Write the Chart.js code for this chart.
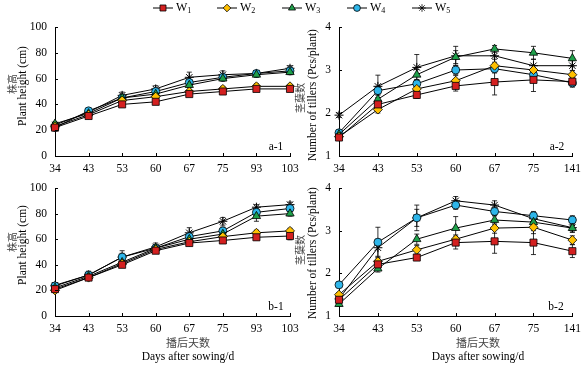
<!DOCTYPE html>
<html>
<head>
<meta charset="utf-8">
<script src="https://cdn.jsdelivr.net/npm/chart.js@4.4.1/dist/chart.umd.min.js"></script>
<style>
body{margin:0;background:#fff;}
#wrap{position:relative;width:587px;height:366px;overflow:hidden;font-family:'Liberation Serif',serif;}
canvas{position:absolute;left:0;top:0;}
.t{position:absolute;white-space:nowrap;transform:translate(-50%,-50%);font-size:11.5px;color:#000;line-height:1;}
.r{transform:translate(-50%,-50%) rotate(-90deg);}
.cn{font-family:'Noto Sans CJK SC',sans-serif;font-size:10px;color:#444;}
</style>
</head>
<body>
<div id="wrap">
  <canvas id="a1" width="587" height="366"></canvas>
  <canvas id="a2" width="587" height="366"></canvas>
  <canvas id="b1" width="587" height="366"></canvas>
  <canvas id="b2" width="587" height="366"></canvas>

  <div class="t r cn" style="left:12px;top:84px;">株高</div>
  <div class="t r" style="left:23px;top:86px;">Plant height (cm)</div>
  <div class="t r cn" style="left:12px;top:242px;">株高</div>
  <div class="t r" style="left:23px;top:245px;">Plant height (cm)</div>
  <div class="t r cn" style="left:300px;top:98px;">茎蘖数</div>
  <div class="t r" style="left:313px;top:95px;">Number of tillers (Pcs/plant)</div>
  <div class="t r cn" style="left:300px;top:250px;">茎蘖数</div>
  <div class="t r" style="left:313px;top:253px;">Number of tillers (Pcs/plant)</div>

  <div class="t cn" style="left:188px;top:342px;font-size:11px;">播后天数</div>
  <div class="t" style="left:188px;top:357px;">Days after sowing/d</div>
  <div class="t cn" style="left:478px;top:342px;font-size:11px;">播后天数</div>
  <div class="t" style="left:478px;top:357px;">Days after sowing/d</div>

  <div class="t" style="left:276px;top:147px;">a-1</div>
  <div class="t" style="left:557px;top:147px;">a-2</div>
  <div class="t" style="left:276px;top:307px;">b-1</div>
  <div class="t" style="left:556px;top:307px;">b-2</div>
</div>
<script>
const seriesNames = ['W1', 'W2', 'W3', 'W4', 'W5'];
const daysHeight = ['34', '43', '53', '60', '67', '75', '93', '103'];
const daysTillers = ['34', '43', '53', '60', '67', '75', '141'];

// a-1 plant height
const heightA = [
    [22, 31, 40, 42, 48, 50, 52, 52],
    [23, 32, 43, 46, 50, 52, 54, 54],
    [25, 33, 45, 48, 55, 60, 63, 65],
    [22, 35, 45, 50, 57, 61, 64, 66],
    [24, 34, 47, 52, 61, 63, 64, 68]
];
const heightAErr = [
    [1, 1, 1.5, 1.5, 1.5, 1.5, 1.5, 1.5],
    [1, 1, 1.5, 1.5, 1.5, 2, 2, 1.5],
    [1.5, 1.5, 2, 2, 2, 2, 2, 2],
    [1, 1.5, 2, 2, 2, 2, 2, 2],
    [1, 1.5, 2.5, 2.5, 4, 3, 2, 2]
];

// a-2 tillers
const tillersA = [
    [1.43, 2.2, 2.42, 2.63, 2.72, 2.77, 2.73],
    [1.45, 2.08, 2.56, 2.75, 3.1, 3.0, 2.89],
    [1.5, 2.32, 2.89, 3.3, 3.49, 3.4, 3.27],
    [1.54, 2.52, 2.68, 3.0, 3.03, 2.89, 2.7],
    [1.95, 2.62, 3.06, 3.33, 3.33, 3.1, 3.1]
];
const tillersAErr = [
    [0.05, 0.1, 0.08, 0.12, 0.3, 0.27, 0.1],
    [0.05, 0.08, 0.1, 0.12, 0.15, 0.1, 0.1],
    [0.05, 0.1, 0.12, 0.15, 0.08, 0.15, 0.18],
    [0.05, 0.1, 0.1, 0.1, 0.1, 0.12, 0.1],
    [0.05, 0.26, 0.3, 0.22, 0.15, 0.15, 0.12]
];

// b-1 plant height
const heightB = [
    [21, 30, 40, 51, 57, 59, 61.5, 62.5],
    [20, 30, 41, 52, 58, 62, 65, 66.5],
    [22, 31, 42, 53, 60, 64, 78, 80],
    [23.5, 32, 46, 53, 62, 66.5, 81, 84],
    [24, 32, 46, 54, 65, 74, 85, 87]
];
const heightBErr = [
    [1.5, 2, 2, 2, 1.5, 2, 2, 3],
    [1.5, 2, 2, 2, 1.5, 2, 2, 2],
    [1.5, 2, 3, 2, 2, 2, 4, 2],
    [1.5, 2, 3, 2, 2, 3, 3, 2],
    [2, 3, 5, 3, 4, 3, 2, 2]
];

// b-2 tillers
const tillersB = [
    [1.38, 2.21, 2.37, 2.72, 2.75, 2.72, 2.52],
    [1.5, 2.28, 2.55, 2.8, 3.06, 3.08, 2.78],
    [1.28, 2.11, 2.8, 3.06, 3.25, 3.2, 3.06],
    [1.73, 2.73, 3.3, 3.6, 3.45, 3.35, 3.25],
    [1.4, 2.6, 3.3, 3.7, 3.6, 3.28, 3.07]
];
const tillersBErr = [
    [0.05, 0.1, 0.06, 0.15, 0.28, 0.28, 0.15],
    [0.05, 0.08, 0.1, 0.1, 0.12, 0.15, 0.1],
    [0.05, 0.08, 0.12, 0.27, 0.1, 0.1, 0.1],
    [0.05, 0.35, 0.2, 0.1, 0.1, 0.1, 0.1],
    [0.05, 0.2, 0.3, 0.1, 0.1, 0.1, 0.1]
];

const marks = [
    {color: '#D42020', style: 'rect', radius: 5},
    {color: '#FFC000', style: 'rectRot', radius: 4.5},
    {color: '#1EA04A', style: 'triangle', radius: 4.8},
    {color: '#2EB6EA', style: 'circle', radius: 4},
    {color: '#000000', style: 'star', radius: 4.5}
];

const FONT = "'Liberation Serif', serif";

// vertical error bars drawn through the y scale
const errorBars = {
    id: 'errorBars',
    beforeDatasetsDraw(chart) {
        const ctx = chart.ctx;
        const yScale = chart.scales.y;
        ctx.save();
        ctx.strokeStyle = '#000';
        ctx.lineWidth = 0.8;
        chart.data.datasets.forEach((ds, i) => {
            const meta = chart.getDatasetMeta(i);
            meta.data.forEach((pt, j) => {
                const e = ds.errors[j];
                const v = ds.data[j];
                const y1 = yScale.getPixelForValue(v - e);
                const y2 = yScale.getPixelForValue(v + e);
                ctx.beginPath();
                ctx.moveTo(pt.x, y1); ctx.lineTo(pt.x, y2);
                ctx.moveTo(pt.x - 2.5, y1); ctx.lineTo(pt.x + 2.5, y1);
                ctx.moveTo(pt.x - 2.5, y2); ctx.lineTo(pt.x + 2.5, y2);
                ctx.stroke();
            });
        });
        ctx.restore();
    }
};

// short tick marks pointing into the plot, like the original
const innerTicks = {
    id: 'innerTicks',
    afterDraw(chart) {
        const ctx = chart.ctx;
        const a = chart.chartArea;
        const xs = chart.scales.x;
        const ys = chart.scales.y;
        ctx.save();
        ctx.strokeStyle = '#000';
        ctx.lineWidth = 1;
        ctx.beginPath();
        xs.ticks.forEach((t, i) => {
            if (i === 0) return;
            const px = Math.round(xs.getPixelForTick(i)) + 0.5;
            ctx.moveTo(px, a.bottom); ctx.lineTo(px, a.bottom - 3);
        });
        ys.ticks.forEach((t, i) => {
            if (i === 0) return;
            const py = Math.round(ys.getPixelForTick(i)) + 0.5;
            ctx.moveTo(a.left, py); ctx.lineTo(a.left + 3, py);
        });
        ctx.stroke();
        ctx.restore();
    }
};

// shared legend along the top of the figure
const topLegend = {
    id: 'topLegend',
    afterDraw(chart) {
        const ctx = chart.ctx;
        const xs = [163, 227, 292, 357, 422];
        const y = 8;
        ctx.save();
        seriesNames.forEach((name, i) => {
            const m = marks[i];
            ctx.strokeStyle = '#000';
            ctx.lineWidth = 1;
            ctx.beginPath();
            ctx.moveTo(xs[i] - 10, y); ctx.lineTo(xs[i] + 10, y);
            ctx.stroke();
            ctx.fillStyle = m.color;
            ctx.lineWidth = 0.8;
            Chart.helpers.drawPoint(ctx, {pointStyle: m.style, radius: m.radius * 0.85, borderWidth: 0.8, rotation: 0}, xs[i], y);
            ctx.fillStyle = '#000';
            ctx.textBaseline = 'middle';
            ctx.textAlign = 'left';
            ctx.font = '12px ' + FONT;
            ctx.fillText(name[0], xs[i] + 13, y);
            const w = ctx.measureText(name[0]).width;
            ctx.font = '8px ' + FONT;
            ctx.fillText(name.slice(1), xs[i] + 13 + w, y + 3);
        });
        ctx.restore();
    }
};

function makePanel(id, labels, rows, errs, yMin, yMax, step, pad, extra) {
    const datasets = rows.map((row, i) => ({
        label: seriesNames[i],
        data: row,
        errors: errs[i],
        borderColor: '#000',
        borderWidth: 1,
        backgroundColor: marks[i].color,
        pointStyle: marks[i].style,
        pointRadius: marks[i].radius,
        pointBackgroundColor: marks[i].color,
        pointBorderColor: '#000',
        pointBorderWidth: marks[i].style === 'star' ? 1 : 0.8,
        tension: 0,
        clip: false
    }));
    const axisGrid = {display: true, drawOnChartArea: false, drawTicks: false};
    return new Chart(document.getElementById(id), {
        type: 'line',
        data: {labels: labels, datasets: datasets},
        plugins: [errorBars, innerTicks].concat(extra || []),
        options: {
            responsive: false,
            animation: false,
            layout: {padding: pad},
            plugins: {legend: {display: false}, tooltip: {enabled: false}},
            scales: {
                x: {
                    grid: axisGrid,
                    border: {display: true, color: '#000', width: 1},
                    ticks: {color: '#000', font: {family: FONT, size: 11.5}, padding: 6, autoSkip: false, maxRotation: 0},
                    afterFit(s) { s.height = 20; }
                },
                y: {
                    min: yMin,
                    max: yMax,
                    grid: axisGrid,
                    border: {display: true, color: '#000', width: 1},
                    ticks: {stepSize: step, color: '#000', font: {family: FONT, size: 11.5}, padding: 8},
                    afterFit(s) { s.width = 30; }
                }
            }
        }
    });
}

makePanel('a1', daysHeight, heightA, heightAErr, 0, 100, 20, {left: 25, right: 297, top: 27, bottom: 190}, [topLegend]);
makePanel('a2', daysTillers, tillersA, tillersAErr, 1, 4, 1, {left: 309, right: 13, top: 27, bottom: 190});
makePanel('b1', daysHeight, heightB, heightBErr, 0, 100, 20, {left: 25, right: 297, top: 188, bottom: 30});
makePanel('b2', daysTillers, tillersB, tillersBErr, 1, 4, 1, {left: 309, right: 13, top: 188, bottom: 30});
</script>
</body>
</html>
